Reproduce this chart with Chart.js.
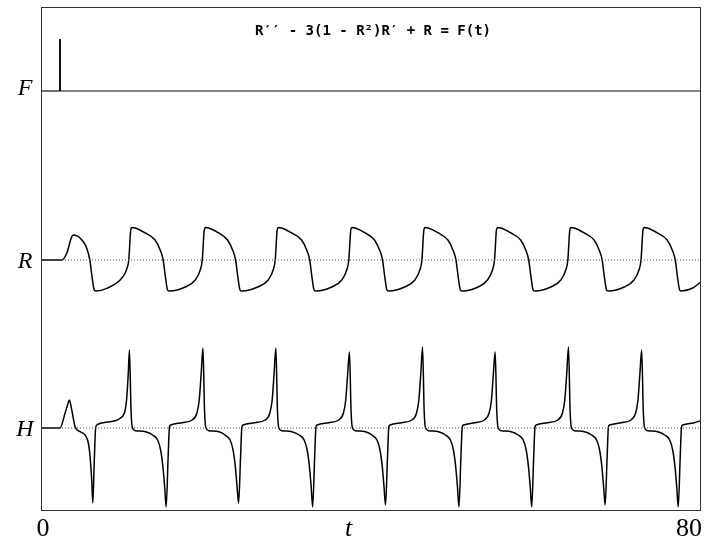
<!DOCTYPE html>
<html>
<head>
<meta charset="utf-8">
<script src="https://cdn.jsdelivr.net/npm/chart.js@4/dist/chart.umd.min.js"></script>
<style>
  body { margin: 0; background: #fff; }
  canvas { display: block; }
</style>
</head>
<body>
<canvas id="myChart" width="707" height="542"></canvas>
<script>
// Texter
const titleText = "R′′ - 3(1 - R²)R′ + R = F(t)";
const rowLabels = ['F', 'R', 'H'];
const xTickLabels = ['0', '80'];
const xTitle = 't';

// Tidsaxel 0..80
const xRange = [0, 80];

// F(t): en impuls
const fTime = [0, 2.3, 2.3, 2.3, 80];
const fValues = [0, 0, 1, 0, 0];

// Nollinjer (prickade)
const baseTime = [0, 80];
const baseValues = [0, 0];

// R(t)
const rTime = [
  0, 2.51, 3.12, 3.73, 4.00, 5.13, 5.55, 5.92, 6.16, 6.46, 6.68, 7.98, 9.59, 10.20, 10.48, 10.64,
  10.88, 11.02, 11.42, 12.62, 13.83, 14.44, 14.81, 15.05, 15.35, 15.57, 17.48, 18.70, 19.30, 19.55,
  19.79, 19.93, 20.33, 21.53, 22.61, 23.22, 23.59, 23.83, 24.13, 24.35, 26.26, 27.54, 28.14, 28.39,
  28.63, 28.77, 29.17, 30.37, 31.59, 32.20, 32.57, 32.81, 33.11, 33.33, 35.24, 36.46, 37.06, 37.31,
  37.55, 37.69, 38.09, 39.29, 40.42, 41.03, 41.40, 41.64, 41.94, 42.16, 44.07, 45.32, 45.92, 46.17,
  46.41, 46.55, 46.95, 48.15, 49.32, 49.93, 50.30, 50.54, 50.84, 51.06, 52.97, 54.12, 54.72, 54.97,
  55.21, 55.35, 55.75, 56.95, 58.14, 58.75, 59.12, 59.36, 59.66, 59.88, 61.79, 63.01, 63.61, 63.86,
  64.10, 64.24, 64.64, 65.84, 67.04, 67.65, 68.02, 68.26, 68.56, 68.78, 70.69, 71.88, 72.48, 72.73,
  72.97, 73.11, 73.51, 74.71, 75.90, 76.51, 76.88, 77.12, 77.42, 77.64, 79.00, 80.00
];
const rValues = [
  0, 0, 0.42, 1.46, 1.56, 1.14, 0.73, 0, -0.94, -1.88, -1.94, -1.77, -1.25, -0.81, -0.42, 0,
  1.88, 2.03, 2.00, 1.69, 1.25, 0.63, 0, -0.94, -1.88, -1.94, -1.69, -1.25, -0.63, 0,
  1.88, 2.03, 2.00, 1.69, 1.25, 0.63, 0, -0.94, -1.88, -1.94, -1.69, -1.25, -0.63, 0,
  1.88, 2.03, 2.00, 1.69, 1.25, 0.63, 0, -0.94, -1.88, -1.94, -1.69, -1.25, -0.63, 0,
  1.88, 2.03, 2.00, 1.69, 1.25, 0.63, 0, -0.94, -1.88, -1.94, -1.69, -1.25, -0.63, 0,
  1.88, 2.03, 2.00, 1.69, 1.25, 0.63, 0, -0.94, -1.88, -1.94, -1.69, -1.25, -0.63, 0,
  1.88, 2.03, 2.00, 1.69, 1.25, 0.63, 0, -0.94, -1.88, -1.94, -1.69, -1.25, -0.63, 0,
  1.88, 2.03, 2.00, 1.69, 1.25, 0.63, 0, -0.94, -1.88, -1.94, -1.69, -1.25, -0.63, 0,
  1.88, 2.03, 2.00, 1.69, 1.25, 0.63, 0, -0.94, -1.88, -1.94, -1.75, -1.36
];

// H(t)
const hTime = [
  0, 2.31, 2.92, 3.22, 3.44, 3.73, 4.13, 4.74, 5.34, 5.74, 5.95, 6.15, 6.28, 6.47, 6.62, 6.76, 8.38, 9.59, 10.20, 10.40, 10.58, 10.72,
  10.91, 11.08, 11.45, 12.66, 13.53, 14.14, 14.50, 14.78, 14.99, 15.17, 15.41, 15.57, 15.72, 17.11, 18.33, 18.90, 19.18, 19.42, 19.63,
  19.82, 19.99, 20.36, 21.57, 22.31, 22.92, 23.28, 23.56, 23.77, 23.95, 24.19, 24.35, 24.50, 25.89, 27.17, 27.74, 28.02, 28.26, 28.47,
  28.66, 28.83, 29.20, 30.41, 31.29, 31.90, 32.26, 32.54, 32.75, 32.93, 33.17, 33.33, 33.48, 34.87, 36.09, 36.66, 36.94, 37.18, 37.39,
  37.58, 37.75, 38.12, 39.33, 40.12, 40.73, 41.09, 41.37, 41.58, 41.76, 42.00, 42.16, 42.31, 43.70, 44.95, 45.52, 45.80, 46.04, 46.25,
  46.44, 46.61, 46.98, 48.19, 49.02, 49.63, 49.99, 50.27, 50.48, 50.66, 50.90, 51.06, 51.21, 52.60, 53.75, 54.32, 54.60, 54.84, 55.05,
  55.24, 55.41, 55.78, 56.99, 57.84, 58.45, 58.81, 59.09, 59.30, 59.48, 59.72, 59.88, 60.03, 61.42, 62.64, 63.21, 63.49, 63.73, 63.94,
  64.13, 64.30, 64.67, 65.88, 66.74, 67.35, 67.71, 67.99, 68.20, 68.38, 68.62, 68.78, 68.93, 70.32, 71.51, 72.08, 72.36, 72.60, 72.81,
  73.00, 73.17, 73.54, 74.75, 75.60, 76.21, 76.57, 76.85, 77.06, 77.24, 77.48, 77.64, 77.79, 79.18, 80.00
];
const hValues = [
  0, 0, 1.5, 2.3, 2.8, 1.8, 0.13, -0.37, -0.7, -1.5, -2.87, -5.2, -7.5, -3.0, 0, 0.3, 0.63, 0.97, 1.8, 3.1, 5.5, 7.8,
  1.8, 0, -0.27, -0.37, -0.7, -1.2, -2.2, -3.9, -5.9, -7.9, -2.9, 0.1, 0.3, 0.53, 0.8, 1.5, 2.8, 5.5, 8.0,
  1.8, 0, -0.27, -0.37, -0.7, -1.2, -2.2, -3.9, -5.9, -7.5, -2.9, 0.1, 0.3, 0.53, 0.8, 1.5, 2.8, 5.5, 8.0,
  1.8, 0, -0.27, -0.37, -0.7, -1.2, -2.2, -3.9, -5.9, -7.9, -2.9, 0.1, 0.3, 0.53, 0.8, 1.5, 2.8, 5.5, 7.6,
  1.8, 0, -0.27, -0.37, -0.7, -1.2, -2.2, -3.9, -5.9, -7.7, -2.9, 0.1, 0.3, 0.53, 0.8, 1.5, 2.8, 5.5, 8.1,
  1.8, 0, -0.27, -0.37, -0.7, -1.2, -2.2, -3.9, -5.9, -7.9, -2.9, 0.1, 0.3, 0.53, 0.8, 1.5, 2.8, 5.5, 7.6,
  1.8, 0, -0.27, -0.37, -0.7, -1.2, -2.2, -3.9, -5.9, -7.9, -2.9, 0.1, 0.3, 0.53, 0.8, 1.5, 2.8, 5.5, 8.1,
  1.8, 0, -0.27, -0.37, -0.7, -1.2, -2.2, -3.9, -5.9, -7.7, -2.9, 0.1, 0.3, 0.53, 0.8, 1.5, 2.8, 5.5, 7.8,
  1.8, 0, -0.27, -0.37, -0.7, -1.2, -2.2, -3.9, -5.9, -7.9, -2.9, 0.1, 0.3, 0.53, 0.73
];

function toPoints(xs, ys) {
  return xs.map((x, i) => ({ x: x, y: ys[i] }));
}

// Ram och texter runt diagrammet
const framePlugin = {
  id: 'frame',
  afterDraw(chart) {
    const ctx = chart.ctx;
    const a = chart.chartArea;
    const sx = chart.scales.x;
    ctx.save();
    ctx.strokeStyle = '#333';
    ctx.lineWidth = 1;
    ctx.strokeRect(a.left + 0.5, a.top + 0.5, a.right - a.left - 1, a.bottom - a.top - 1);

    ctx.fillStyle = '#000';
    ctx.font = 'italic 24px "Liberation Serif"';
    ctx.textAlign = 'center';
    ctx.textBaseline = 'alphabetic';
    const axes = ['yF', 'yR', 'yH'];
    const offs = [4, 8, 8];
    rowLabels.forEach((lab, i) => {
      const y = chart.scales[axes[i]].getPixelForValue(0);
      ctx.fillText(lab, 25, y + offs[i]);
    });

    ctx.font = '26px "Liberation Serif"';
    ctx.textAlign = 'center';
    ctx.fillText(xTickLabels[0], sx.getPixelForValue(xRange[0]) + 2, 536);
    ctx.textAlign = 'right';
    ctx.fillText(xTickLabels[1], sx.getPixelForValue(xRange[1]) + 1, 536);
    ctx.font = 'italic 26px "Liberation Serif"';
    ctx.textAlign = 'center';
    ctx.fillText(xTitle, sx.getPixelForValue(37.3), 536);

    ctx.font = 'bold 14px "DejaVu Sans Mono"';
    ctx.textAlign = 'center';
    ctx.textBaseline = 'middle';
    ctx.fillText(titleText, 373, 31);
    ctx.restore();
  }
};

const ctx = document.getElementById('myChart').getContext('2d');
const chartInstance = new Chart(ctx, {
  type: 'line',
  data: {
    datasets: [
      {
        label: 'F',
        data: toPoints(fTime, fValues),
        yAxisID: 'yF',
        borderColor: '#111',
        borderWidth: 1.2,
        segment: {
          borderWidth: c => (c.p0.parsed.y !== c.p1.parsed.y ? 2 : 1.2)
        },
        pointRadius: 0,
        tension: 0
      },
      {
        label: 'R0',
        data: toPoints(baseTime, baseValues),
        yAxisID: 'yR',
        borderColor: '#555',
        borderWidth: 1,
        borderDash: [1, 2],
        pointRadius: 0
      },
      {
        label: 'H0',
        data: toPoints(baseTime, baseValues),
        yAxisID: 'yH',
        borderColor: '#555',
        borderWidth: 1,
        borderDash: [1, 2],
        pointRadius: 0
      },
      {
        label: 'R',
        data: toPoints(rTime, rValues),
        yAxisID: 'yR',
        borderColor: '#000',
        borderWidth: 1.5,
        pointRadius: 0,
        cubicInterpolationMode: 'monotone'
      },
      {
        label: 'H',
        data: toPoints(hTime, hValues),
        yAxisID: 'yH',
        borderColor: '#000',
        borderWidth: 1.5,
        pointRadius: 0,
        cubicInterpolationMode: 'monotone'
      }
    ]
  },
  options: {
    responsive: false,
    animation: false,
    layout: { padding: { left: 41, right: 6, top: 7, bottom: 31 } },
    plugins: {
      legend: { display: false },
      tooltip: { enabled: false },
      title: { display: false }
    },
    scales: {
      x: { type: 'linear', min: xRange[0], max: xRange[1], display: false },
      yF: { type: 'linear', min: -8.077, max: 1.615, display: false },
      yR: { type: 'linear', min: -15.6875, max: 15.8125, display: false },
      yH: { type: 'linear', min: -8.3, max: 42.1, display: false }
    }
  },
  plugins: [framePlugin]
});
</script>
</body>
</html>
